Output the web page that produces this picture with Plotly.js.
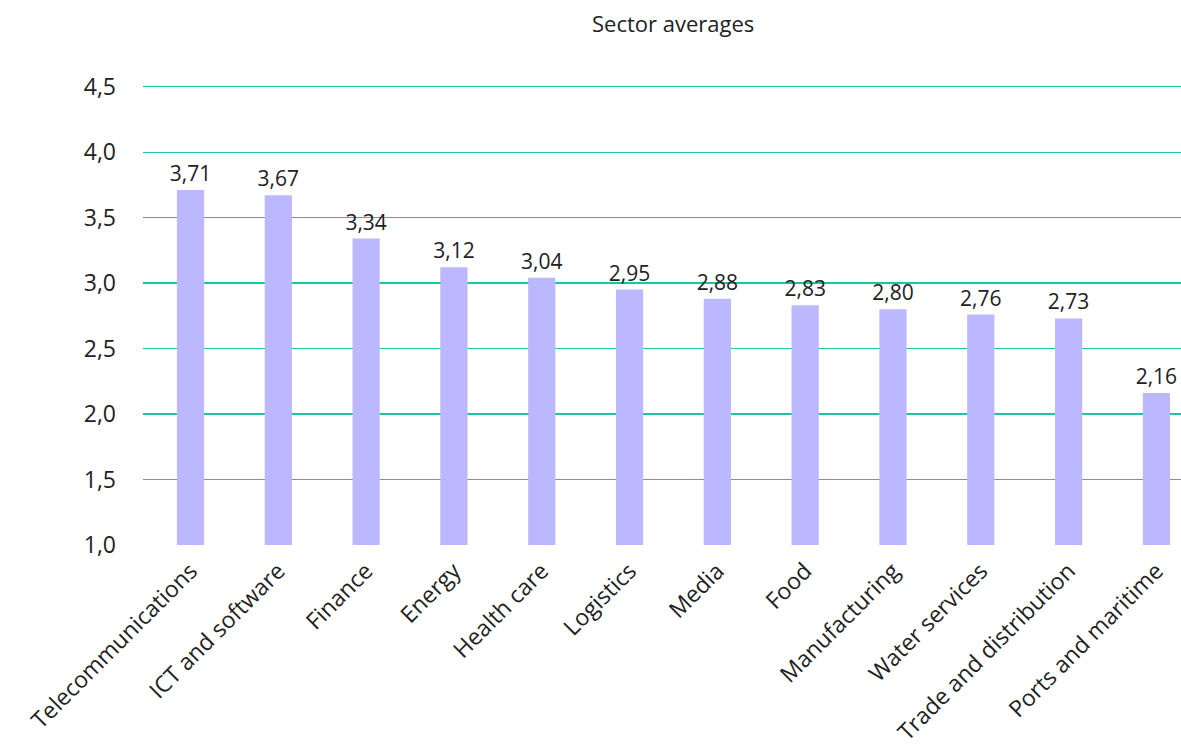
<!DOCTYPE html>
<html><head><meta charset="utf-8">
<script src="https://cdn.plot.ly/plotly-3.0.1.min.js"></script>
<style>html,body{margin:0;padding:0;background:#fff}#chart{width:1181px;height:754px}</style>
</head><body><div id="chart"></div>
<script>
const categories = ["Telecommunications","ICT and software","Finance","Energy","Health care","Logistics","Media","Food","Manufacturing","Water services","Trade and distribution","Ports and maritime"];
const values = [3.71,3.67,3.34,3.12,3.04,2.95,2.88,2.83,2.80,2.76,2.73,2.16];
const yTicks = [1.0,1.5,2.0,2.5,3.0,3.5,4.0,4.5];

const trace = {
  type:'bar', x:categories, y:values,
  marker:{color:'#bbb8ff'}, width:0.31,
  texttemplate:'%{y:.2f}', textposition:'outside', cliponaxis:false, constraintext:'none',
  textfont:{family:'Open Sans', size:21, color:'#222'},
  hoverinfo:'skip'
};
const layout = {
  width:1181, height:754,
  margin:{l:143, r:0, t:84, b:209},
  separators:',.',
  paper_bgcolor:'#fff', plot_bgcolor:'#fff',
  font:{family:'Open Sans', color:'#222'},
  title:{text:'Sector averages', font:{family:'Open Sans', size:22, color:'#222'}, x:0.57, xanchor:'center', y:0.968, yanchor:'middle'},
  showlegend:false,
  xaxis:{type:'category', range:[-0.541,11.28], tickangle:-45, tickfont:{size:23, color:'#222'}, showgrid:false, zeroline:false, showline:false, ticks:'', ticklabelstandoff:7},
  yaxis:{range:[1,4.52], tickvals:yTicks, tickformat:'.1f', tickfont:{size:23, color:'#222'}, gridcolor:'#19c6a3', gridwidth:1.2, zeroline:false, showline:false, ticklabelstandoff:26},
  bargap:0.69
};
Plotly.newPlot('chart',[trace],layout,{displayModeBar:false, staticPlot:true});
</script></body></html>
